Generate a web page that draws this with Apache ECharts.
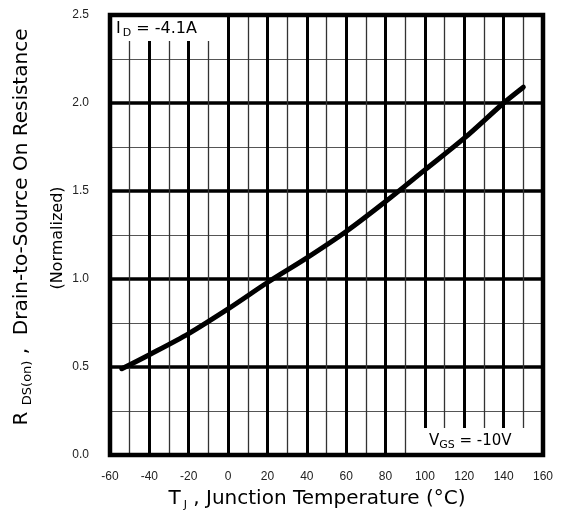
<!DOCTYPE html>
<html><head><meta charset="utf-8">
<script src="https://cdn.jsdelivr.net/npm/echarts@6/dist/echarts.min.js"></script>
<style>html,body{margin:0;padding:0;background:#fff}#c{width:564px;height:523px}</style>
</head><body><div id="c"></div>
<script>
// Junction temperature (°C)
const temperatures = [-54, -40, -20, 0, 20, 40, 60, 80, 100, 120, 140, 150];
// Normalized on-resistance
const rdsNormalized = [0.49, 0.57, 0.69, 0.83, 0.98, 1.12, 1.27, 1.44, 1.62, 1.80, 2.00, 2.09];
// Tick values
const xTickValues = [-60, -40, -20, 0, 20, 40, 60, 80, 100, 120, 140, 160];
const yTickValues = [0.0, 0.5, 1.0, 1.5, 2.0, 2.5];

const chart = echarts.init(document.getElementById('c'), null, {renderer: 'canvas'});
const G = {left: 110, top: 15, width: 433, height: 440};
const TF = "'DejaVu Sans', sans-serif";
const LF = "'Liberation Sans', Arial, sans-serif";

const option = {
  backgroundColor: '#fff',
  animation: false,
  grid: {left: G.left, top: G.top, width: G.width, height: G.height, show: false},
  xAxis: {
    type: 'value',
    min: xTickValues[0], max: xTickValues[xTickValues.length - 1],
    interval: xTickValues[1] - xTickValues[0],
    axisLine: {show: false}, axisTick: {show: false},
    axisLabel: {color: '#222', fontSize: 12, fontFamily: LF, margin: 16},
    splitLine: {show: true, lineStyle: {color: '#000', width: 3}},
    minorTick: {show: false, splitNumber: 2},
    minorSplitLine: {show: true, lineStyle: {color: '#333', width: 1.3}}
  },
  yAxis: {
    type: 'value',
    min: yTickValues[0], max: yTickValues[yTickValues.length - 1],
    interval: yTickValues[1] - yTickValues[0],
    axisLine: {show: false}, axisTick: {show: false},
    axisLabel: {color: '#222', fontSize: 12, fontFamily: LF, margin: 21,
      formatter: v => v.toFixed(1)},
    splitLine: {show: true, lineStyle: {color: '#000', width: 3.5}},
    minorTick: {show: false, splitNumber: 2},
    minorSplitLine: {show: true, lineStyle: {color: '#555', width: 1.2}}
  },
  series: [{
    type: 'line',
    data: temperatures.map((t, i) => [t, rdsNormalized[i]]),
    smooth: 0.3,
    showSymbol: false,
    lineStyle: {color: '#000', width: 5, cap: 'round', join: 'round'},
    z: 3
  }],
  graphic: [
    // top-left annotation box
    {type: 'rect', z: 50, shape: {x: 112, y: 17, width: 98, height: 24}, style: {fill: '#fff', stroke: null}},
    {type: 'text', z: 51, x: 116, y: 29, style: {
      text: '{i|I}{d|D}{n| = -4.1A}', align: 'left', verticalAlign: 'middle',
      textAlign: 'left', textVerticalAlign: 'middle', fill: '#000',
      rich: {
        i: {fontSize: 16, fontFamily: TF, lineHeight: 20, verticalAlign: 'middle', fill: '#000'},
        d: {fontSize: 11, fontFamily: TF, lineHeight: 13, verticalAlign: 'bottom', fill: '#000', padding: [0, 0, 0, 2]},
        n: {fontSize: 16, fontFamily: TF, lineHeight: 20, verticalAlign: 'middle', fill: '#000'}
      }}},
    // bottom-right annotation box
    {type: 'rect', z: 50, shape: {x: 423, y: 428, width: 118, height: 25}, style: {fill: '#fff', stroke: null}},
    {type: 'text', z: 51, x: 429, y: 441, style: {
      text: '{v|V}{g|GS}{n| = -10V}', align: 'left', verticalAlign: 'middle',
      textAlign: 'left', textVerticalAlign: 'middle', fill: '#000',
      rich: {
        v: {fontSize: 15, fontFamily: TF, lineHeight: 20, verticalAlign: 'middle', fill: '#000'},
        g: {fontSize: 11, fontFamily: TF, lineHeight: 15, verticalAlign: 'bottom', fill: '#000'},
        n: {fontSize: 15, fontFamily: TF, lineHeight: 20, verticalAlign: 'middle', fill: '#000'}
      }}},
    // plot frame
    {type: 'rect', z: 100, shape: {x: G.left, y: G.top, width: G.width, height: G.height},
      style: {fill: 'none', stroke: '#000', lineWidth: 4.5}},
    // x axis title
    {type: 'text', z: 51, x: 317, y: 499, style: {
      text: '{t|T}{j|J}{n| , Junction Temperature (°C)}', align: 'center', verticalAlign: 'middle',
      textAlign: 'center', textVerticalAlign: 'middle', fill: '#000',
      rich: {
        t: {fontSize: 20, fontFamily: TF, lineHeight: 24, verticalAlign: 'middle', fill: '#000'},
        j: {fontSize: 11, fontFamily: TF, lineHeight: 14, verticalAlign: 'bottom', fill: '#000', padding: [0, 0, 0, 3]},
        n: {fontSize: 20, fontFamily: TF, lineHeight: 24, verticalAlign: 'middle', fill: '#000'}
      }}},
    // y axis title line 1
    {type: 'text', z: 51, x: 22, y: 227, rotation: Math.PI / 2, style: {
      text: '{r|R }{s|DS(on)}{n| ,  Drain-to-Source On Resistance}', align: 'center', verticalAlign: 'middle',
      textAlign: 'center', textVerticalAlign: 'middle', fill: '#000',
      rich: {
        r: {fontSize: 20, fontFamily: TF, lineHeight: 24, verticalAlign: 'middle', fill: '#000'},
        s: {fontSize: 13, fontFamily: TF, lineHeight: 14, verticalAlign: 'bottom', fill: '#000'},
        n: {fontSize: 20, fontFamily: TF, lineHeight: 24, verticalAlign: 'middle', fill: '#000'}
      }}},
    // y axis title line 2
    {type: 'text', z: 51, x: 58, y: 238, rotation: Math.PI / 2, style: {
      text: '(Normalized)', align: 'center', verticalAlign: 'middle',
      textAlign: 'center', textVerticalAlign: 'middle', fill: '#000',
      fontSize: 16, fontFamily: TF, font: "16px 'DejaVu Sans', sans-serif"}}
  ]
};
chart.setOption(option);
</script>
</body></html>
